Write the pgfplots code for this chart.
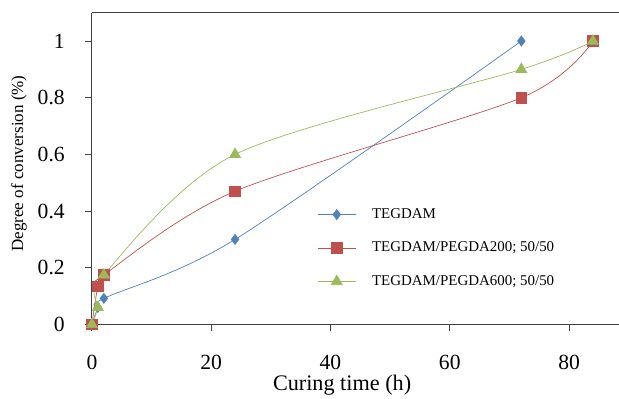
\documentclass[border=0pt]{standalone}
\usepackage{fontspec}
\setmainfont{Liberation Serif}
\usepackage{pgfplots}
\pgfplotsset{compat=1.18}
\usetikzlibrary{calc}
\definecolor{cblue}{HTML}{4F81BD}
\definecolor{cred}{HTML}{C0504D}
\definecolor{cgreen}{HTML}{9BBB59}
\newcommand{\lf}{\fontsize{15}{17}\selectfont}
\begin{document}
\begin{tikzpicture}
\begin{axis}[
  scale only axis,
  width=527bp, height=312bp,
  xmin=0, xmax=88.3, ymin=0, ymax=1.1,
  axis x line*=bottom, axis y line*=left,
  axis line style={-, black!75, line width=0.9pt},
  tick style={black!75, line width=0.9pt},
  tick align=outside, major tick length=7bp,
  xtick={0,20,40,60,80}, ytick={0,0.2,0.4,0.6,0.8,1},
  yticklabels={0,0.2,0.4,0.6,0.8,1},
  /pgf/number format/assume math mode=true,
  ticklabel style={font=\fontsize{21.7}{26}\selectfont, inner sep=0pt},
  xticklabel style={anchor=north, yshift=-23bp},
  yticklabel style={anchor=east, xshift=-20bp},
  xlabel={Curing time (h)}, ylabel={Degree of conversion (\%)},
  xlabel style={font=\fontsize{22.3}{26}\selectfont, at={(rel axis cs:0.475,-0.2115)}, anchor=base},
  ylabel style={font=\fontsize{17.1}{20}\selectfont, at={(rel axis cs:-0.1385,0.516)}, anchor=center},
  clip=false,
  legend style={draw=none, fill=none, inner sep=0pt, at={(rel axis cs:0.4288,0.374)}, anchor=north west,
    font=\lf, row sep=20.5bp, column sep=16.5bp, cells={anchor=west},
    nodes={inner sep=0pt, text height=10bp, text depth=3bp, font=\lf}},
  legend image code/.code={\draw[mark repeat=2,mark phase=2] plot coordinates {(0bp,0bp) (18.5bp,0bp) (37bp,0bp)};},
]
\coordinate (sw) at (rel axis cs:0,0);
\coordinate (ne) at (rel axis cs:1,1);
\draw[black!75, line width=0.9pt] (rel axis cs:0,1) -- (rel axis cs:1,1);
\addplot[cblue, line width=0.7pt, smooth, tension=0.5, mark=diamond*, mark size=5bp, mark options={fill=cblue}]
  coordinates {(0,0) (1,0.06) (2,0.092) (24,0.3) (72,1)};
\addlegendentry{\lf TEGDAM}
\addplot[cred, line width=0.7pt, smooth, tension=0.5, mark=square*, mark size=5.3bp, mark options={fill=cred}]
  coordinates {(0,0) (1,0.135) (2,0.175) (24,0.47) (72,0.8) (84,1)};
\addlegendentry{\lf TEGDAM/PEGDA200; 50/50}
\addplot[cgreen, line width=0.7pt, smooth, tension=0.5, mark=triangle*, mark size=6.3bp, mark options={fill=cgreen}]
  coordinates {(0,0) (1,0.06) (2,0.175) (24,0.6) (72,0.9) (84,1)};
\addlegendentry{\lf TEGDAM/PEGDA600; 50/50}
\end{axis}
\path[use as bounding box] ($(sw)+(-92bp,-72bp)$) rectangle ($(ne)+(0,12.7bp)$);
\end{tikzpicture}
\end{document}
